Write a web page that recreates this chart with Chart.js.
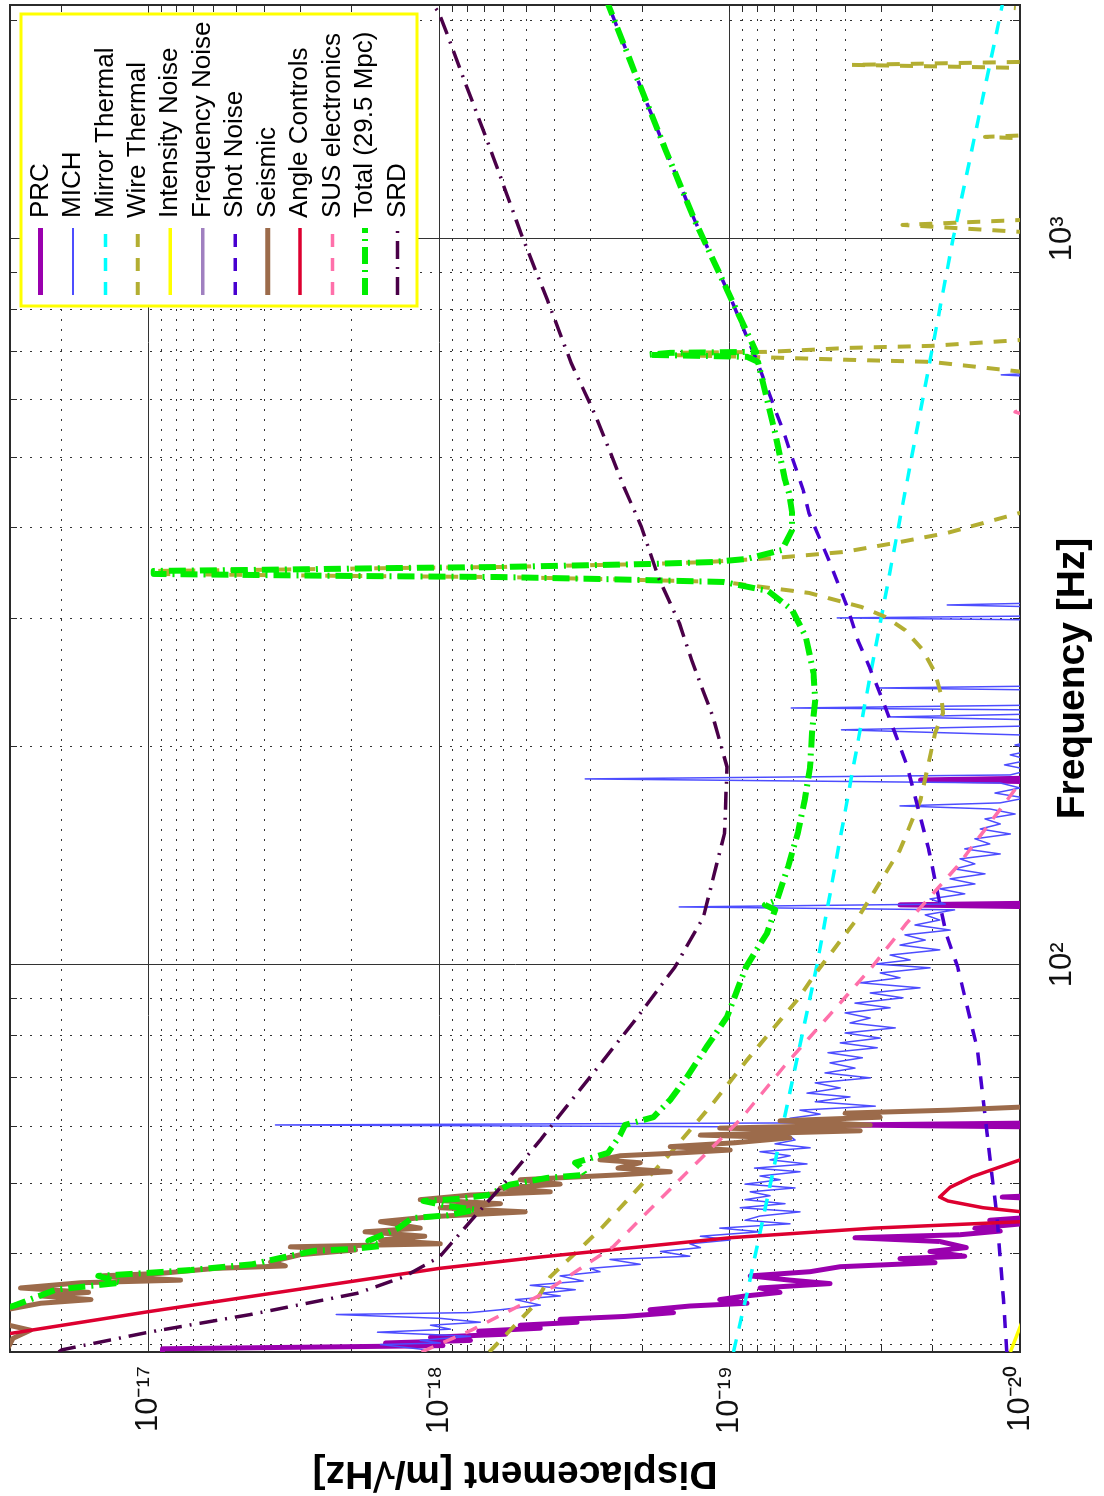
<!DOCTYPE html>
<html>
<head>
<meta charset="utf-8">
<title>Noise budget</title>
<script src="https://cdn.jsdelivr.net/npm/chart.js@4.4.1/dist/chart.umd.min.js"></script>
<style>
  html, body { margin: 0; padding: 0; background: #fff; overflow: hidden; }
  /* the figure is laid out landscape and then turned a quarter turn, like the printed page */
  #page { position: absolute; left: 0; top: 0; width: 1496px; height: 1104px;
          transform-origin: 0 0; transform: translate(0, 1496px) rotate(-90deg); }
  #budget { display: block; width: 1496px; height: 1104px; }
</style>
</head>
<body>
<div id="page"><canvas id="budget" width="1496" height="1104"></canvas></div>
<script>
// axis ticks
const freqTicks = [30, 40, 50, 60, 70, 80, 90, 100, 200, 300, 400, 500, 600, 700, 800, 900, 1000, 2000];
const dispTicks = [1e-20, 2e-20, 3e-20, 4e-20, 5e-20, 6e-20, 7e-20, 8e-20, 9e-20,
                   1e-19, 2e-19, 3e-19, 4e-19, 5e-19, 6e-19, 7e-19, 8e-19, 9e-19,
                   1e-18, 2e-18, 3e-18, 4e-18, 5e-18, 6e-18, 7e-18, 8e-18, 9e-18,
                   1e-17, 2e-17];

// PRC
const prcFreq = [29.3, 29.6, 29.9, 30.15, 30.4, 30.7, 31.0, 31.3, 31.6, 31.9, 32.2, 32.5, 32.8, 33.2, 33.5, 33.9, 34.2, 34.6, 35.0, 35.4,
                 35.9, 36.4, 36.8, 37.3, 37.8, 38.4, 38.9, 39.4, 39.7, 40.3, 40.8, 41.6, 42.1, 42.5, 43.0, 43.4, 44.0, 44.5, 45.1,
                 47.6, 47.9, 48.2, 59.8, 60.2, 60.6, 120.2, 121.0, 121.7, 178.7, 179.8, 181.0, 230];
const prcDisp = [8.95e-18, 8.95e-18, 9.7e-19, 1.53e-18, 7.8e-19, 1.07e-18, 5.9e-19, 7.3e-19, 4.48e-19, 5.25e-19, 3.35e-19, 3.83e-19, 2.29e-19, 1.56e-19, 1.88e-19, 1.37e-19, 8.7e-20, 1.08e-19, 8.8e-20, 6.7e-20,
                 7.85e-20, 4.51e-20, 6.19e-20, 8.49e-20, 5.28e-20, 4.16e-20, 1.96e-20, 2.59e-20, 1.55e-20, 2.04e-20, 1.53e-20, 1.89e-20, 3.7e-20, 1.61e-20, 1.17e-20, 1.43e-20, 9.85e-21, 1.27e-20, 8e-21,
                 8e-21, 1.15e-20, 8e-21, 8e-21, 3.94e-20, 8e-21, 8e-21, 2.59e-20, 8e-21, 8e-21, 2.2e-20, 8e-21, 8e-21];

// MICH
const michFreq = [29.5, 30.0, 30.15, 30.4, 30.8, 31.2, 31.5, 31.9, 32.2, 32.6, 33.0, 33.2, 33.5, 34.0, 34.6, 35.0, 35.3, 35.7, 36.2, 36.7,
                  37.3, 37.8, 38.2, 38.7, 39.3, 39.7, 40.3, 40.8, 41.3, 41.8, 42.3, 42.9, 43.4, 44.0, 44.5, 45.1, 45.7, 46.3, 46.9, 47.5,
                  48.1, 48.7, 49.3, 49.9, 50.6, 51.2, 51.9, 52.5, 53.2, 53.9, 54.6, 55.3, 56.0, 56.7, 57.4, 58.1, 58.9, 59.8, 60.2, 60.6,
                  61.5, 62.3, 63.1, 63.9, 64.8, 65.8, 66.6, 67.7, 68.8, 69.9, 71.0, 72.1, 73.3, 74.5, 75.7, 76.9, 78.1, 79.3, 80.6, 81.9,
                  83.2, 84.5, 85.9, 87.3, 88.6, 90.1, 91.5, 93.0, 94.5, 96.0, 97.5, 99.1, 100.3, 101.6, 103.2, 104.9, 106.5, 108.2, 110.0, 111.7,
                  113.5, 115.3, 117.2, 119.1, 120.2, 121.3, 123.3, 125.3, 127.3, 129.3, 131.4, 133.5, 135.6, 137.8, 140.0, 142.2, 144.5, 146.8, 149.2, 151.5,
                  153.9, 156.4, 158.9, 161.4, 164.0, 165.6, 167.2, 169.8, 172.5, 175.3, 178.1, 180.4, 182.7, 185.6, 188.6, 191.6, 194.7, 197.8, 200.9, 204.2,
                  207.4, 210.8, 213.4, 217.5, 219.6, 221.7, 224.5, 225.9, 228.0, 239.2, 240.7, 242.2, 298.7, 300.6, 302.5, 311.3, 313.2, 315.2, 645.6, 649.8,
                  653.9, 824.4];
const michDisp = [1.10e-18, 1.59e-18, 9.9e-19, 1.16e-18, 7.8e-19, 1.63e-18, 9.14e-19, 1.07e-18, 7.21e-19, 9.9e-19, 2.26e-18, 7.8e-19, 6.15e-19, 4.48e-19, 5.46e-19, 3.83e-19, 4.48e-19, 3.4e-19, 4.85e-19, 3.19e-19,
                  3.83e-19, 2.79e-19, 3.02e-19, 2.03e-19, 2.58e-19, 1.37e-19, 1.73e-19, 1.26e-19, 1.37e-19, 9.95e-20, 1.26e-19, 7.85e-20, 1.08e-19, 6.19e-20, 8.84e-20, 7.85e-20, 5.72e-20, 9.19e-20, 6.44e-20, 8.84e-20,
                  7.25e-20, 8.49e-20, 5.95e-20, 8.84e-20, 6.7e-20, 7.85e-20, 5.72e-20, 8.2e-20, 5.41e-20, 7.25e-20, 6.19e-20, 7.85e-20, 5.28e-20, 6.97e-20, 5.95e-20, 6.19e-20, 6.7e-20, 5.95e-20, 3.66e-18, 5.72e-20,
                  6.19e-20, 4.88e-20, 5.72e-20, 3.15e-20, 5.07e-20, 3.85e-20, 5.41e-20, 4.16e-20, 5.07e-20, 3.28e-20, 4.69e-20, 3.7e-20, 4.51e-20, 3.49e-20, 4.58e-20, 3.1e-20, 4.16e-20, 3.03e-20, 4.0e-20, 2.69e-20,
                  3.85e-20, 3.28e-20, 4.0e-20, 2.8e-20, 3.7e-20, 2.53e-20, 3.28e-20, 2.21e-20, 3.55e-20, 2.59e-20, 3.03e-20, 2.04e-20, 3.15e-20, 2.39e-20, 2.8e-20, 1.89e-20, 2.59e-20, 2.12e-20, 2.49e-20, 1.74e-20,
                  2.3e-20, 1.89e-20, 2.12e-20, 1.68e-20, 1.49e-19, 1.81e-20, 2.04e-20, 1.55e-20, 1.89e-20, 1.43e-20, 1.74e-20, 1.32e-20, 1.68e-20, 1.43e-20, 1.61e-20, 1.17e-20, 1.55e-20, 1.27e-20, 1.43e-20, 1.08e-20,
                  1.37e-20, 1.17e-20, 1.32e-20, 1.04e-20, 1.27e-20, 2.59e-20, 1.17e-20, 9.6e-21, 1.22e-20, 1.0e-20, 1.17e-20, 3.14e-19, 1.08e-20, 9.25e-21, 1.13e-20, 9.25e-21, 1.08e-20, 8.9e-21, 1.04e-20, 8.5e-21,
                  1.0e-20, 4.12e-20, 9.25e-21, 8.5e-21, 2.8e-20, 8.5e-21, 8.5e-21, 6.13e-20, 8.5e-21, 8.5e-21, 3.08e-20, 8.5e-21, 8.5e-21, 4.26e-20, 8.5e-21, 8.5e-21, 1.78e-20, 8.5e-21, 8.5e-21, 1.16e-20,
                  8.5e-21, 8.5e-21];

// Mirror thermal
const mirrorFreq = [29.3, 35.3, 100, 231.7, 1000, 2101];
const mirrorDisp = [9.7e-20, 8.7e-20, 5.0e-20, 3.4e-20, 1.7e-20, 1.15e-20];

// Wire thermal (violin modes)
const wireFreq = [29.3, 33.8, 37.2, 43.2, 54.4, 64.5, 74.0, 89.5, 97.5, 116.4, 144.0, 168.8, 208.7, 222.4, 235.5, 252.5, 271.6, 289.3, 301.6, 311.3,
                  325.4, 336.9, 340.1, 342.2, 343.4, 344.5, 345.6, 348.9, 350.0, 352.2, 353.3, 356.7, 358.9, 363.6, 370.6, 381.3, 393.6, 419.4, 430.1, 639.6,
                  656.0, 677.1, 681.5, 688.1, 692.4, 696.8, 699.0, 707.9, 712.4, 726.1, 749.6, 1009.5, 1022.4, 1045.4, 1062.2, 1075.7, 1369.1, 1382.2, 1395.3, 1703.1,
                  1720.0, 1736.8, 1753.4, 1770.2, 2053.8, 2080];
const wireDisp = [6.72e-19, 4.77e-19, 4.14e-19, 2.79e-19, 1.64e-19, 1.14e-19, 8.7e-20, 5.85e-20, 5.04e-20, 3.6e-20, 2.59e-20, 2.2e-20, 1.96e-20, 1.84e-20, 1.87e-20, 1.96e-20, 2.16e-20, 2.49e-20, 2.91e-20, 3.52e-20,
                  5.33e-20, 1.05e-19, 2.79e-19, 6.15e-19, 2.02e-18, 4.46e-18, 9.6e-18, 9.6e-18, 4.46e-18, 1.36e-18, 6.15e-19, 1.88e-19, 1.2e-19, 6.97e-20, 4.03e-20, 2.69e-20, 1.78e-20, 1.0e-20, 8.2e-21, 7.3e-21,
                  9.8e-21, 2.02e-20, 3.85e-20, 8.7e-20, 1.72e-19, 1.6e-19, 7.37e-20, 3.85e-20, 2.02e-20, 9.8e-21, 7.3e-21, 7.3e-21, 9.8e-21, 2.54e-20, 9.8e-21, 7.3e-21, 7.3e-21, 1.32e-20, 7.3e-21, 7.3e-21,
                  9.8e-21, 3.79e-20, 9.8e-21, 7.3e-21, 7.3e-21, 1.05e-20];

// Intensity noise
const intensityFreq = [29.3, 32.2, 34.6];
const intensityDisp = [1.08e-20, 9.85e-21, 8.5e-21];

// Frequency noise (below the plotted range)
const freqNoiseFreq = [];
const freqNoiseDisp = [];

// Shot noise
const shotFreq = [29.3, 34.6, 45.0, 58.7, 76.4, 99.4, 110.7, 144.0, 187.4, 231.7, 257.3, 280.4, 308.3, 357.8, 419.4, 451.2, 540.6, 681.5, 851.0, 1062.2, 1326.4, 1671.5, 2114.6];
const shotDisp = [1.11e-20, 1.14e-20, 1.2e-20, 1.3e-20, 1.4e-20, 1.64e-20, 1.8e-20, 2.06e-20, 2.44e-20, 2.97e-20, 3.3e-20, 3.62e-20, 3.9e-20, 4.51e-20, 5.33e-20, 5.58e-20, 6.5e-20, 8.07e-20, 1.02e-19, 1.32e-19, 1.66e-19, 2.09e-19, 2.63e-19];

// Seismic
const seismicFreq = [29.3, 30.6, 31.4, 31.9, 33.5, 34.2, 34.6, 35.0, 35.4, 35.9, 36.5, 36.8, 37.3, 37.6, 38.2, 38.5, 39.0, 39.9, 40.5, 40.9,
                     41.3, 41.8, 42.3, 42.9, 43.4, 44.3, 45.0, 45.7, 46.3, 46.9, 47.5, 48.2, 48.7, 49.3, 49.9, 50.6, 51.4, 51.9, 52.5, 53.4,
                     53.9, 54.6, 55.1, 55.6, 56.2, 56.9, 57.8, 58.3, 59.1, 59.6, 60.2, 61.0, 61.7, 62.5, 63.1, 63.7, 64.3];
const seismicDisp = [3.1e-17, 2.93e-17, 2.55e-17, 3.03e-17, 3.1e-17, 2.35e-17, 1.58e-17, 2.35e-17, 1.61e-17, 2.76e-17, 1.71e-17, 7.76e-18, 1.46e-17, 9.09e-18, 5.88e-18, 3.38e-18, 3.8e-18, 3.0e-18, 1.94e-18, 3.25e-18,
                     9.9e-19, 1.59e-18, 1.12e-18, 1.8e-18, 1.16e-18, 1.59e-18, 1.07e-18, 5.05e-19, 9.9e-19, 6.15e-19, 1.16e-18, 7.8e-19, 4.14e-19, 6.15e-19, 3.83e-19, 5.25e-19, 2.38e-19, 1.6e-19, 2.42e-19, 2.03e-19,
                     2.79e-19, 2.38e-19, 1.48e-19, 9.95e-20, 1.6e-19, 9.57e-20, 6.19e-20, 1.26e-19, 3.55e-20, 1.08e-19, 3.28e-20, 6.7e-20, 3.03e-20, 4.0e-20, 1.74e-20, 1.0e-20, 8.5e-21];

// Angle controls
const angleFreq = [29.3, 31.1, 33.3, 38.2, 39.6, 42.1, 43.4, 44.3, 45.0, 45.7, 46.3, 47.3, 47.9, 49.4, 51.1, 54.0, 55.6, 65.2];
const angleDisp = [7.9e-17, 2.95e-17, 1.0e-17, 9.97e-19, 4.48e-19, 9.95e-20, 3.2e-20, 9.85e-21, 8.2e-21, 9.85e-21, 1.34e-20, 1.77e-20, 1.89e-20, 1.74e-20, 1.46e-20, 9.85e-21, 8.2e-21, 7.3e-21];

// SUS electronics
const susFreq = [29.3, 31.4, 35.1, 40.9, 51.1, 61.2, 73.3, 89.5, 99.4, 114.3, 136.5, 178.1, 191.6, 563.3, 577.8, 592.6, 824.4];
const susDisp = [1.15e-18, 7.74e-19, 4.48e-19, 2.52e-19, 1.45e-19, 9.19e-20, 6.34e-20, 4.07e-20, 3.23e-20, 2.45e-20, 1.65e-20, 1.0e-20, 8.5e-21, 8.5e-21, 1.04e-20, 8.5e-21, 8.5e-21];

// Total
const totalFreq = [29.3, 33.3, 34.0, 35.7, 36.2, 36.5, 37.3, 37.6, 38.0, 38.4, 38.7, 39.6, 40.4, 40.6, 41.0, 41.7, 43.4, 44.8, 45.2, 46.0,
                   46.6, 47.3, 47.6, 48.2, 49.8, 50.9, 51.4, 52.7, 53.4, 55.1, 58.3, 60.2, 61.7, 65.2, 70.1, 77.1, 84.8, 99.4, 110.7, 119.1,
                   121.0, 122.9, 136.5, 152.0, 168.8, 187.4, 208.7, 231.7, 252.5, 282.9, 308.3, 327.5, 336.9, 340.1, 342.2, 343.4, 344.5, 345.6, 348.9, 350.0,
                   352.2, 353.3, 356.7, 358.9, 362.5, 372.9, 397.3, 419.4, 446.9, 465.6, 540.6, 677.1, 688.1, 692.4, 696.8, 699.0, 851.0, 1062.2, 1326.4, 1671.5,
                   2114.6];
const totalDisp = [4.09e-17, 3.36e-17, 2.87e-17, 2.09e-17, 1.52e-17, 1.25e-17, 1.49e-17, 1.065e-17, 7.17e-18, 5.43e-18, 4.39e-18, 3.41e-18, 2.67e-18, 2.02e-18, 1.59e-18, 1.75e-18, 1.38e-18, 1.24e-18, 9.36e-19, 7.5e-19,
                   9.43e-19, 1.13e-18, 8.7e-19, 6.77e-19, 5.73e-19, 4.24e-19, 3.14e-19, 3.27e-19, 3.4e-19, 2.62e-19, 2.38e-19, 2.29e-19, 1.83e-19, 1.6e-19, 1.4e-19, 1.2e-19, 1.02e-19, 8.77e-20, 7.42e-20, 6.97e-20,
                   7.55e-20, 6.86e-20, 6.29e-20, 5.82e-20, 5.51e-20, 5.28e-20, 5.2e-20, 5.07e-20, 5.14e-20, 5.46e-20, 6.09e-20, 7.37e-20, 1.05e-19, 2.79e-19, 6.15e-19, 2.02e-18, 4.46e-18, 9.6e-18, 9.6e-18, 4.46e-18,
                   1.36e-18, 6.15e-19, 1.88e-19, 1.14e-19, 8.7e-20, 6.6e-20, 6.09e-20, 6.09e-20, 6.24e-20, 6.44e-20, 6.97e-20, 7.98e-20, 8.7e-20, 1.91e-19, 1.6e-19, 8.1e-20, 1.02e-19, 1.32e-19, 1.66e-19, 2.09e-19,
                   2.63e-19];

// SRD
const srdFreq = [29.3, 29.5, 31.2, 33.0, 35.3, 37.2, 39.6, 44.5, 50.6, 57.4, 61.7, 83.2, 99.4, 116.4, 152.0, 187.4, 219.6, 231.7, 263.1, 295.9,
                 342.2, 401.2, 455.5, 568.7, 675.0, 824.4, 1006.4, 1297.2, 1640.3, 2048.8, 2101.3];
const srdDisp = [2.04e-17, 1.99e-17, 1.0e-17, 4.46e-18, 1.91e-18, 1.32e-18, 9.97e-19, 7.74e-19, 5.82e-19, 4.48e-19, 3.89e-19, 2.15e-19, 1.54e-19, 1.23e-19, 1.04e-19, 1.02e-19, 1.14e-19, 1.2e-19, 1.35e-19, 1.49e-19,
                 1.76e-19, 2.01e-19, 2.31e-19, 2.88e-19, 3.51e-19, 4.24e-19, 5.17e-19, 6.51e-19, 8.12e-19, 1.0e-18, 1.05e-18];


const FONT = "'Liberation Sans', Arial, Helvetica, sans-serif";
const dashed = [13, 11];

function makeLine(label, freqs, disps, color, width, dash) {
    return {
        label: label,
        data: freqs.map((f, i) => ({ x: f, y: disps[i] })),
        borderColor: color,
        backgroundColor: color,
        borderWidth: width,
        borderDash: dash,
        borderJoinStyle: 'round',
        showLine: true,
        pointRadius: 0,
        pointHoverRadius: 0,
        tension: 0,
        clip: 0
    };
}

const datasets = [
    makeLine('PRC', prcFreq, prcDisp, '#9a00ae', 5, []),
    makeLine('MICH', michFreq, michDisp, '#4d4dff', 1.5, []),
    makeLine('Mirror Thermal', mirrorFreq, mirrorDisp, '#00ffff', 3.5, dashed),
    makeLine('Wire Thermal', wireFreq, wireDisp, '#b3ae32', 4, dashed),
    makeLine('Intensity Noise', intensityFreq, intensityDisp, '#ffff00', 3.5, []),
    makeLine('Frequency Noise', freqNoiseFreq, freqNoiseDisp, '#a080c0', 3.5, []),
    makeLine('Shot Noise', shotFreq, shotDisp, '#4800d0', 3.5, dashed),
    makeLine('Seismic', seismicFreq, seismicDisp, '#9c6b4b', 5, []),
    makeLine('Angle Controls', angleFreq, angleDisp, '#dd0030', 3.5, []),
    makeLine('SUS electronics', susFreq, susDisp, '#ff70aa', 3.5, dashed),
    makeLine('Total (29.5 Mpc)', totalFreq, totalDisp, '#00ee00', 6, [17, 6, 2, 6]),
    makeLine('SRD', srdFreq, srdDisp, '#4a0048', 3.5, [18, 8, 2, 8])
];
// later curves sit on top, as in the original plot
datasets.forEach((ds, i) => { ds.order = datasets.length - i; });


// 10^n labels with superscript exponents
const SUP = { '-': '\u207b', '0': '\u2070', '1': '\u00b9', '2': '\u00b2', '3': '\u00b3', '4': '\u2074',
              '5': '\u2075', '6': '\u2076', '7': '\u2077', '8': '\u2078', '9': '\u2079' };
function isDecade(v) {
    const e = Math.log10(v);
    return Math.abs(e - Math.round(e)) < 1e-9;
}
function powerLabel(v) {
    if (!isDecade(v)) return '';
    return '10' + String(Math.round(Math.log10(v))).split('').map(c => SUP[c]).join('');
}
function useTicks(list) {
    return function (scale) {
        scale.ticks = list.map(v => ({ value: v, major: isDecade(v) }));
    };
}
// fixed axis sizes; the labels never need extra room outside the frame
function fixSize(size) {
    return function (scale) {
        if (scale.isHorizontal()) scale.height = size; else scale.width = size;
        scale.paddingTop = 0;
        scale.paddingBottom = 0;
        scale.paddingLeft = 0;
        scale.paddingRight = 0;
    };
}

const frameColor = '#2b2b2b';
const minorGrid = ctx => (ctx.tick && isDecade(ctx.tick.value)) ? 'rgba(0,0,0,0)' : '#333';
const majorGrid = ctx => (ctx.tick && isDecade(ctx.tick.value)) ? '#333' : 'rgba(0,0,0,0)';

const FREQ_MIN = 29.3, FREQ_MAX = 2100;
const DISP_MIN = 1e-20, DISP_MAX = 3e-17;


// legend drawn in a yellow box at the upper right of the plot
const legendPanel = {
    id: 'legendPanel',
    afterDraw(chart) {
        const ctx = chart.ctx;
        const area = chart.chartArea;
        const boxLeft = area.right - 301, boxTop = area.top + 11;
        const boxWidth = 292, boxHeight = 396;
        ctx.save();
        ctx.fillStyle = '#ffffff';
        ctx.fillRect(boxLeft, boxTop, boxWidth, boxHeight);
        ctx.lineWidth = 3;
        ctx.strokeStyle = '#ffff00';
        ctx.strokeRect(boxLeft, boxTop, boxWidth, boxHeight);

        ctx.font = '26px ' + FONT;
        ctx.textBaseline = 'middle';
        ctx.textAlign = 'left';
        chart.data.datasets.forEach((ds, i) => {
            const y = boxTop + 19.5 + 32.45 * i;
            ctx.beginPath();
            ctx.setLineDash(ds.borderDash || []);
            ctx.lineWidth = Math.max(ds.borderWidth, 2);
            ctx.strokeStyle = ds.borderColor;
            ctx.moveTo(boxLeft + 11, y);
            ctx.lineTo(boxLeft + 78, y);
            ctx.stroke();
            ctx.setLineDash([]);
            ctx.fillStyle = '#000';
            ctx.fillText(ds.label, boxLeft + 88, y);
        });
        ctx.restore();
    }
};


const budgetChart = new Chart(document.getElementById('budget'), {
    type: 'scatter',
    data: { datasets: datasets },
    options: {
        responsive: false,
        animation: false,
        devicePixelRatio: 1,
        layout: { autoPadding: false, padding: { top: 10, right: 5, bottom: 0, left: 0 } },
        plugins: {
            legend: { display: false },
            tooltip: { enabled: false }
        },
        scales: {
            x: {
                type: 'logarithmic',
                position: 'bottom',
                min: FREQ_MIN,
                max: FREQ_MAX,
                afterBuildTicks: useTicks(freqTicks),
                afterFit: fixSize(84),
                ticks: {
                    callback: v => powerLabel(v),
                    autoSkip: false,
                    maxRotation: 0,
                    padding: 31,
                    color: '#111',
                    font: { family: FONT, size: 31 }
                },
                grid: { color: minorGrid, lineWidth: 1, drawTicks: true, tickLength: -7, tickColor: frameColor, tickWidth: 1 },
                border: { display: true, color: frameColor, width: 2, dash: [2, 8] },
                title: {
                    display: true,
                    text: 'Frequency [Hz]',
                    color: '#000',
                    font: { family: FONT, size: 39, weight: 'bold' },
                    padding: { top: 0, bottom: 7 }
                }
            },
            xTop: {
                type: 'logarithmic',
                axis: 'x',
                position: 'top',
                min: FREQ_MIN,
                max: FREQ_MAX,
                afterBuildTicks: useTicks(freqTicks),
                afterFit: fixSize(0),
                ticks: { display: false, autoSkip: false },
                grid: { color: majorGrid, lineWidth: 1, drawTicks: true, tickLength: -7, tickColor: frameColor, tickWidth: 1 },
                border: { display: true, color: frameColor, width: 2 }
            },
            y: {
                type: 'logarithmic',
                position: 'left',
                min: DISP_MIN,
                max: DISP_MAX,
                afterBuildTicks: useTicks(dispTicks),
                afterFit: fixSize(144),
                ticks: {
                    callback: v => powerLabel(v),
                    autoSkip: false,
                    padding: 21,
                    color: '#111',
                    font: { family: FONT, size: 31 }
                },
                grid: { color: minorGrid, lineWidth: 1, drawTicks: true, tickLength: -7, tickColor: frameColor, tickWidth: 1 },
                border: { display: true, color: frameColor, width: 2, dash: [2, 8] },
                title: {
                    display: true,
                    text: 'Displacement [m/\u221aHz]',
                    color: '#000',
                    font: { family: FONT, size: 39, weight: 'bold' },
                    padding: { top: 0, bottom: 0 }
                }
            },
            yRight: {
                type: 'logarithmic',
                axis: 'y',
                position: 'right',
                min: DISP_MIN,
                max: DISP_MAX,
                afterBuildTicks: useTicks(dispTicks),
                afterFit: fixSize(0),
                ticks: { display: false, autoSkip: false },
                grid: { color: majorGrid, lineWidth: 1, drawTicks: true, tickLength: -7, tickColor: frameColor, tickWidth: 1 },
                border: { display: true, color: frameColor, width: 2 }
            }
        }
    },
    plugins: [legendPanel]
});
</script>
</body>
</html>
